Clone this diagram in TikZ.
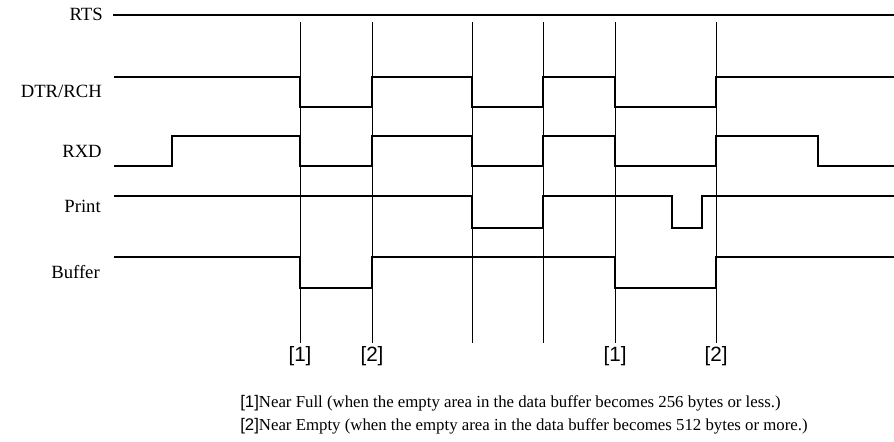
\documentclass[tikz,border=0pt]{standalone}
\usepackage{fontspec}
\setmainfont{Liberation Serif}
\newfontfamily\tagfont{Liberation Sans}

\tikzset{
  signame/.style={anchor=east,inner sep=0pt,font=\fontsize{14}{16}\selectfont},
  wave/.style={line width=1.1pt,line join=miter},
  guide/.style={line width=0.5pt},
  tag/.style={anchor=north,inner sep=0pt,font=\tagfont\fontsize{15.5}{17}\selectfont},
  note/.style={anchor=west,inner sep=0pt,font=\fontsize{12.6}{15}\selectfont}
}

\begin{document}
\begin{tikzpicture}[x=0.75pt,y=-0.75pt]
  \useasboundingbox (0,0) rectangle (894,442);

  % signal names
  \node[signame] (rts)    at (103,14)  {RTS};
  \node[signame] (dtr)    at (102,91)  {DTR/RCH};
  \node[signame] (rxd)    at (102,151) {RXD};
  \node[signame] (print)  at (101,206) {Print};
  \node[signame] (buffer) at (100,272) {Buffer};

  % timing guides
  \foreach \x in {300,372,472,543,615,716}
    \draw[guide] (\x,22) -- (\x,343);

  % waveforms
  \draw[line width=0.9pt] (113,15) -- (894,15);
  \draw[wave] (114,77) -| (300,107) -| (372,77) -| (472,107) -| (543,77)
              -| (615,107) -| (716,77) -- (894,77);
  \draw[wave] (114,166) -| (172,136) -| (300,166) -| (372,136) -| (472,166)
              -| (543,136) -| (615,166) -| (716,136) -| (818,166) -- (894,166);
  \draw[wave] (114,196) -| (472,228) -| (543,196) -| (672,228) -| (702,196)
              -- (894,196);
  \draw[wave] (114,257) -| (300,288) -| (372,257) -| (615,288) -| (716,257)
              -- (894,257);

  % buffer state marks
  \node[tag] (full1)  at (300,346) {[1]};
  \node[tag] (empty1) at (372,346) {[2]};
  \node[tag] (full2)  at (615,346) {[1]};
  \node[tag] (empty2) at (716,346) {[2]};

  % legend
  \node[note] (nfull)  at (240,403)
    {{\tagfont [1]}Near Full (when the empty area in the data buffer becomes 256 bytes or less.)};
  \node[note] (nempty) at (240,426)
    {{\tagfont [2]}Near Empty (when the empty area in the data buffer becomes 512 bytes or more.)};

\end{tikzpicture}
\end{document}
